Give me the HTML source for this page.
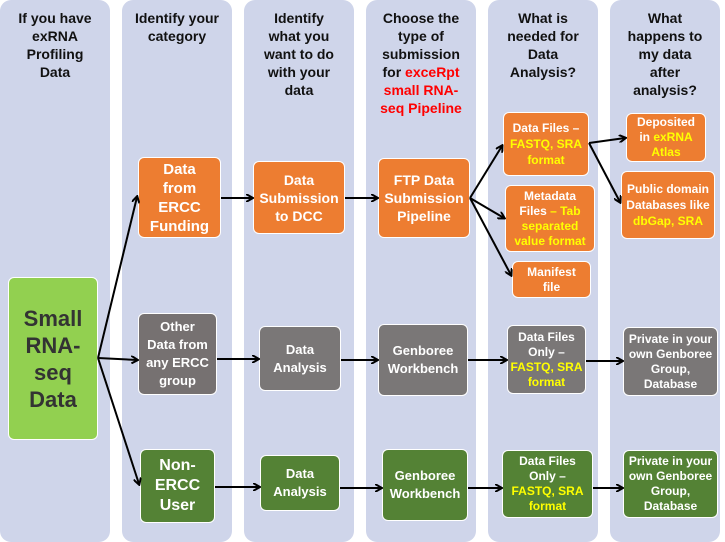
<!DOCTYPE html>
<html><head><meta charset="utf-8"><style>
body{margin:0;width:725px;height:542px;background:#fff;position:relative;overflow:hidden;font-family:"Liberation Sans",sans-serif}
.col{position:absolute;top:0;width:110px;height:542px;background:#cfd5ea;border-radius:11px}
.h{position:absolute;top:9px;width:110px;text-align:center;font-weight:bold;font-size:14px;line-height:18px;color:#111}
.b{position:absolute;box-sizing:border-box;border:1px solid #fff;border-radius:6px;display:flex;align-items:center;justify-content:center;text-align:center;font-weight:bold;color:#fff;font-size:13px;line-height:17px}
.o{background:#ed7d31}.g{background:#7a7777}.d{background:#548235}
.y{color:#ffff00}.r{color:#ff0000}
svg{position:absolute;left:0;top:0}
</style></head><body>
<div class="col" style="left:0"></div><div class="col" style="left:122px"></div><div class="col" style="left:244px"></div><div class="col" style="left:366px"></div><div class="col" style="left:488px"></div><div class="col" style="left:610px"></div>
<div class="h" style="left:0">If you have<br>exRNA<br>Profiling<br>Data</div>
<div class="h" style="left:122px">Identify your<br>category</div>
<div class="h" style="left:244px">Identify<br>what you<br>want to do<br>with your<br>data</div>
<div class="h" style="left:366px">Choose the<br>type of<br>submission<br>for <span class="r">exceRpt<br>small RNA-<br>seq Pipeline</span></div>
<div class="h" style="left:488px">What is<br>needed for<br>Data<br>Analysis?</div>
<div class="h" style="left:610px">What<br>happens to<br>my data<br>after<br>analysis?</div>

<div class="b" style="left:8px;top:277px;width:90px;height:163px;background:#92d050;color:#333;font-size:22px;line-height:27px">Small<br>RNA-<br>seq<br>Data</div>
<div class="b o" style="left:138px;top:157px;width:83px;height:81px;font-size:15px;line-height:19px">Data<br>from<br>ERCC<br>Funding</div>
<div class="b o" style="left:253px;top:161px;width:92px;height:73px;font-size:14px;line-height:18px">Data<br>Submission<br>to DCC</div>
<div class="b o" style="left:378px;top:158px;width:92px;height:80px;font-size:14px;line-height:18px">FTP Data<br>Submission<br>Pipeline</div>
<div class="b o" style="left:503px;top:112px;width:86px;height:64px;font-size:12px;line-height:16px"><span>Data Files –<br><span class="y">FASTQ, SRA<br>format</span></span></div>
<div class="b o" style="left:505px;top:185px;width:90px;height:67px;font-size:12px;line-height:15px"><span>Metadata<br>Files <span class="y">– Tab<br>separated<br>value format</span></span></div>
<div class="b o" style="left:512px;top:261px;width:79px;height:37px;font-size:12px;line-height:15px">Manifest<br>file</div>
<div class="b o" style="left:626px;top:113px;width:80px;height:49px;font-size:12px;line-height:15px"><span>Deposited<br>in <span class="y">exRNA<br>Atlas</span></span></div>
<div class="b o" style="left:621px;top:171px;width:94px;height:68px;font-size:12px;line-height:16px"><span>Public domain<br>Databases like<br><span class="y">dbGap, SRA</span></span></div>

<div class="b g" style="left:138px;top:313px;width:79px;height:82px;font-size:13px;line-height:18px;background:#767171">Other<br>Data from<br>any ERCC<br>group</div>
<div class="b g" style="left:259px;top:326px;width:82px;height:65px;font-size:13px;line-height:18px">Data<br>Analysis</div>
<div class="b g" style="left:378px;top:324px;width:90px;height:72px;font-size:13px;line-height:18px">Genboree<br>Workbench</div>
<div class="b g" style="left:507px;top:325px;width:79px;height:69px;font-size:12px;line-height:15px"><span>Data Files<br>Only –<br><span class="y">FASTQ, SRA<br>format</span></span></div>
<div class="b g" style="left:623px;top:327px;width:95px;height:69px;font-size:12px;line-height:15px">Private in your<br>own Genboree<br>Group,<br>Database</div>

<div class="b d" style="left:140px;top:449px;width:75px;height:74px;font-size:16px;line-height:20px">Non-<br>ERCC<br>User</div>
<div class="b d" style="left:260px;top:455px;width:80px;height:56px;font-size:13px;line-height:18px">Data<br>Analysis</div>
<div class="b d" style="left:382px;top:449px;width:86px;height:72px;font-size:13px;line-height:18px">Genboree<br>Workbench</div>
<div class="b d" style="left:502px;top:450px;width:91px;height:68px;font-size:12px;line-height:15px"><span>Data Files<br>Only –<br><span class="y">FASTQ, SRA<br>format</span></span></div>
<div class="b d" style="left:623px;top:450px;width:95px;height:68px;font-size:12px;line-height:15px">Private in your<br>own Genboree<br>Group,<br>Database</div>

<svg width="725" height="542"><defs><marker id="a" markerWidth="8" markerHeight="8" refX="6" refY="4" orient="auto" markerUnits="userSpaceOnUse"><path d="M0,0 L7,4 L0,8" fill="none" stroke="#000" stroke-width="2"/></marker></defs>
<g stroke="#000" stroke-width="2" fill="none" marker-end="url(#a)">
<line x1="98" y1="358" x2="137" y2="197"/>
<line x1="98" y1="358" x2="137" y2="360"/>
<line x1="98" y1="358" x2="139" y2="484"/>
<line x1="221" y1="198" x2="252" y2="198"/>
<line x1="345" y1="198" x2="377" y2="198"/>
<line x1="470" y1="198" x2="502" y2="146"/>
<line x1="470" y1="198" x2="504" y2="218"/>
<line x1="470" y1="198" x2="511" y2="275"/>
<line x1="589" y1="143" x2="625" y2="138"/>
<line x1="589" y1="143" x2="620" y2="202"/>
<line x1="217" y1="359" x2="258" y2="359"/>
<line x1="341" y1="360" x2="377" y2="360"/>
<line x1="468" y1="360" x2="506" y2="360"/>
<line x1="586" y1="361" x2="622" y2="361"/>
<line x1="215" y1="487" x2="259" y2="487"/>
<line x1="340" y1="488" x2="381" y2="488"/>
<line x1="468" y1="488" x2="501" y2="488"/>
<line x1="593" y1="488" x2="622" y2="488"/>
</g></svg>
</body></html>
